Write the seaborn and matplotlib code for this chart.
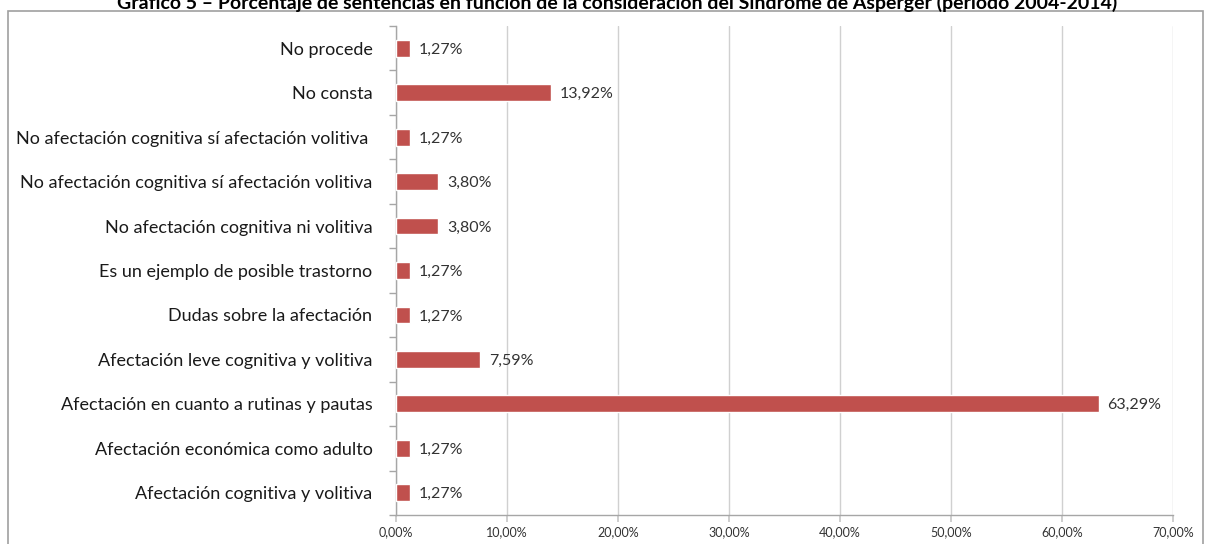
import matplotlib
matplotlib.use("Agg")
import matplotlib.pyplot as plt
import seaborn as sns
import numpy as np
from matplotlib.patches import Rectangle
from matplotlib.ticker import FuncFormatter, FixedLocator

categories = [
    "No procede",
    "No consta",
    "No afectación cognitiva sí afectación volitiva ",
    "No afectación cognitiva sí afectación volitiva",
    "No afectación cognitiva ni volitiva",
    "Es un ejemplo de posible trastorno",
    "Dudas sobre la afectación",
    "Afectación leve cognitiva y volitiva",
    "Afectación en cuanto a rutinas y pautas",
    "Afectación económica como adulto",
    "Afectación cognitiva y volitiva",
]
values = [1.27, 13.92, 1.27, 3.80, 3.80, 1.27, 1.27, 7.59, 63.29, 1.27, 1.27]
value_labels = ["1,27%", "13,92%", "1,27%", "3,80%", "3,80%", "1,27%", "1,27%",
                "7,59%", "63,29%", "1,27%", "1,27%"]
xticks = [0, 10, 20, 30, 40, 50, 60, 70]
title = "Gráfico 5 – Porcentaje de sentencias en función de la consideración del Síndrome de Asperger (período 2004-2014)"

sns.set_theme(style="white")
plt.rcParams['font.family'] = ['Lato', 'DejaVu Sans']

fig = plt.figure(figsize=(12.10, 5.44), dpi=100)
fig.patch.set_facecolor("white")
ax = fig.add_axes([396/1210, (544-515)/544, (1173-396)/1210, (515-26)/544])

sns.barplot(x=values, y=categories, orient="h", color="#C0504D", width=0.38,
            saturation=1, ax=ax, zorder=3)

ax.set_xlim(0, 70)
ax.set_ylim(len(categories) - 0.5, -0.5)
ax.xaxis.set_major_locator(FixedLocator(xticks))
ax.xaxis.set_major_formatter(FuncFormatter(lambda v, p: f"{v:.2f}%".replace(".", ",")))
ax.grid(axis="x", color="#D0D0D0", linewidth=1, zorder=0)
ax.set_axisbelow(True)

for s in ["top", "right"]:
    ax.spines[s].set_visible(False)
for s in ["left", "bottom"]:
    ax.spines[s].set_color("#A6A6A6")
    ax.spines[s].set_linewidth(1)

ax.tick_params(axis="y", which="major", length=0, pad=17, labelsize=13, labelcolor="#1a1a1a")
ax.yaxis.set_minor_locator(FixedLocator(np.arange(-0.5, len(categories), 1.0)))
ax.tick_params(axis="y", which="minor", left=True, length=5, color="#A6A6A6", width=1)
ax.tick_params(axis="x", which="major", bottom=True, length=5, color="#C8C8C8",
               labelsize=9, labelcolor="#333333", pad=3)
ax.set_xlabel("")
ax.set_ylabel("")

for i, (v, lab) in enumerate(zip(values, value_labels)):
    ax.text(v + 0.8, i, lab, va="center_baseline", ha="left", fontsize=11.5, color="#333333")

fig.patches.append(Rectangle((8/1210, -0.1), (1203-8)/1210, (544-11)/544 + 0.1,
                             transform=fig.transFigure, fill=False,
                             edgecolor="#A0A0A0", linewidth=1.2))
fig.text(617/1210, 1 - 1/544, title, ha="center", va="center_baseline", fontsize=14,
         fontweight="bold", color="#000000")

fig.savefig("out.png", dpi=100)
